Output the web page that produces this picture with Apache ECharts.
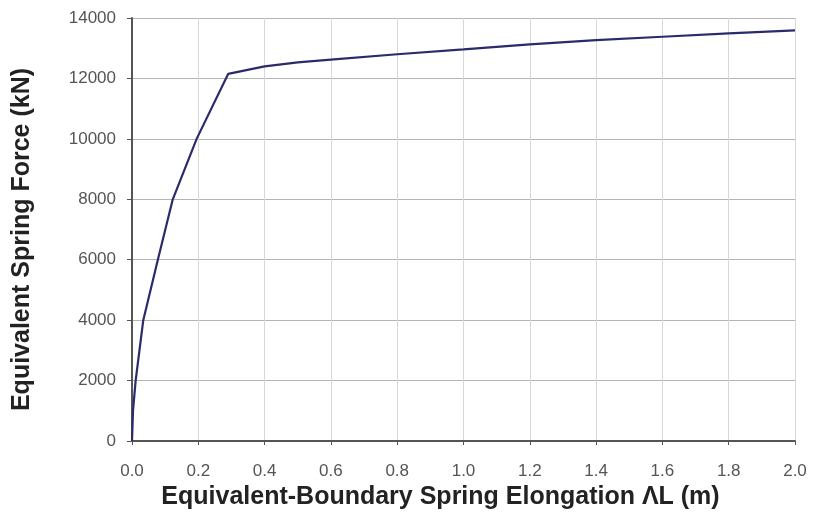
<!DOCTYPE html>
<html>
<head>
<meta charset="utf-8">
<script src="https://cdn.jsdelivr.net/npm/echarts@6/dist/echarts.min.js"></script>
<style>html,body{margin:0;padding:0;background:#fff}#c{width:814px;height:531px}</style>
</head>
<body>
<div id="c"></div>
<script>
const elongation = [0, 0.003, 0.011, 0.034, 0.078, 0.123, 0.195, 0.29, 0.4, 0.5, 0.6, 0.8, 1.0, 1.2, 1.4, 1.6, 1.8, 2.0];
const force = [0, 1000, 2000, 4000, 6000, 8000, 10000, 12150, 12400, 12530, 12620, 12800, 12960, 13130, 13270, 13380, 13490, 13590];
const xTitle = 'Equivalent-Boundary Spring Elongation ΛL (m)';
const yTitle = 'Equivalent Spring Force (kN)';

const chart = echarts.init(document.getElementById('c'), null, {renderer: 'canvas'});
const fontFam = '"Liberation Sans", Arial, sans-serif';
chart.setOption({
  animation: false,
  backgroundColor: '#fff',
  grid: {left: 132, right: 19, top: 18, bottom: 90},
  xAxis: {
    type: 'value', min: 0, max: 2.0, interval: 0.2,
    name: xTitle, nameLocation: 'middle', nameGap: 44,
    nameTextStyle: {fontFamily: fontFam, fontWeight: 'bold', fontSize: 25, color: '#222', padding: [0, 46, 0, 0]},
    axisLine: {lineStyle: {color: '#555', width: 2}},
    axisTick: {show: true, length: 4, lineStyle: {color: '#555', width: 1}},
    axisLabel: {fontFamily: fontFam, fontSize: 17, color: '#555', margin: 22,
      formatter: v => v.toFixed(1)},
    splitLine: {show: true, lineStyle: {color: '#d8d8d8', width: 1}}
  },
  yAxis: {
    type: 'value', min: 0, max: 14000, interval: 2000,
    name: yTitle, nameLocation: 'middle', nameGap: 97, nameRotate: 90,
    nameTextStyle: {fontFamily: fontFam, fontWeight: 'bold', fontSize: 25, color: '#222', padding: [0, 20, 0, 0]},
    axisLine: {show: true, lineStyle: {color: '#555', width: 2}},
    axisTick: {show: true, length: 5, lineStyle: {color: '#555', width: 1}},
    axisLabel: {fontFamily: fontFam, fontSize: 17, color: '#555', margin: 16,
      formatter: v => String(v)},
    splitLine: {show: true, lineStyle: {color: '#b4b4b4', width: 1}}
  },
  series: [{
    type: 'line',
    data: elongation.map((x, i) => [x, force[i]]),
    showSymbol: false,
    smooth: false,
    lineStyle: {color: '#2b2b6b', width: 2.2}
  }]
});
</script>
</body>
</html>
